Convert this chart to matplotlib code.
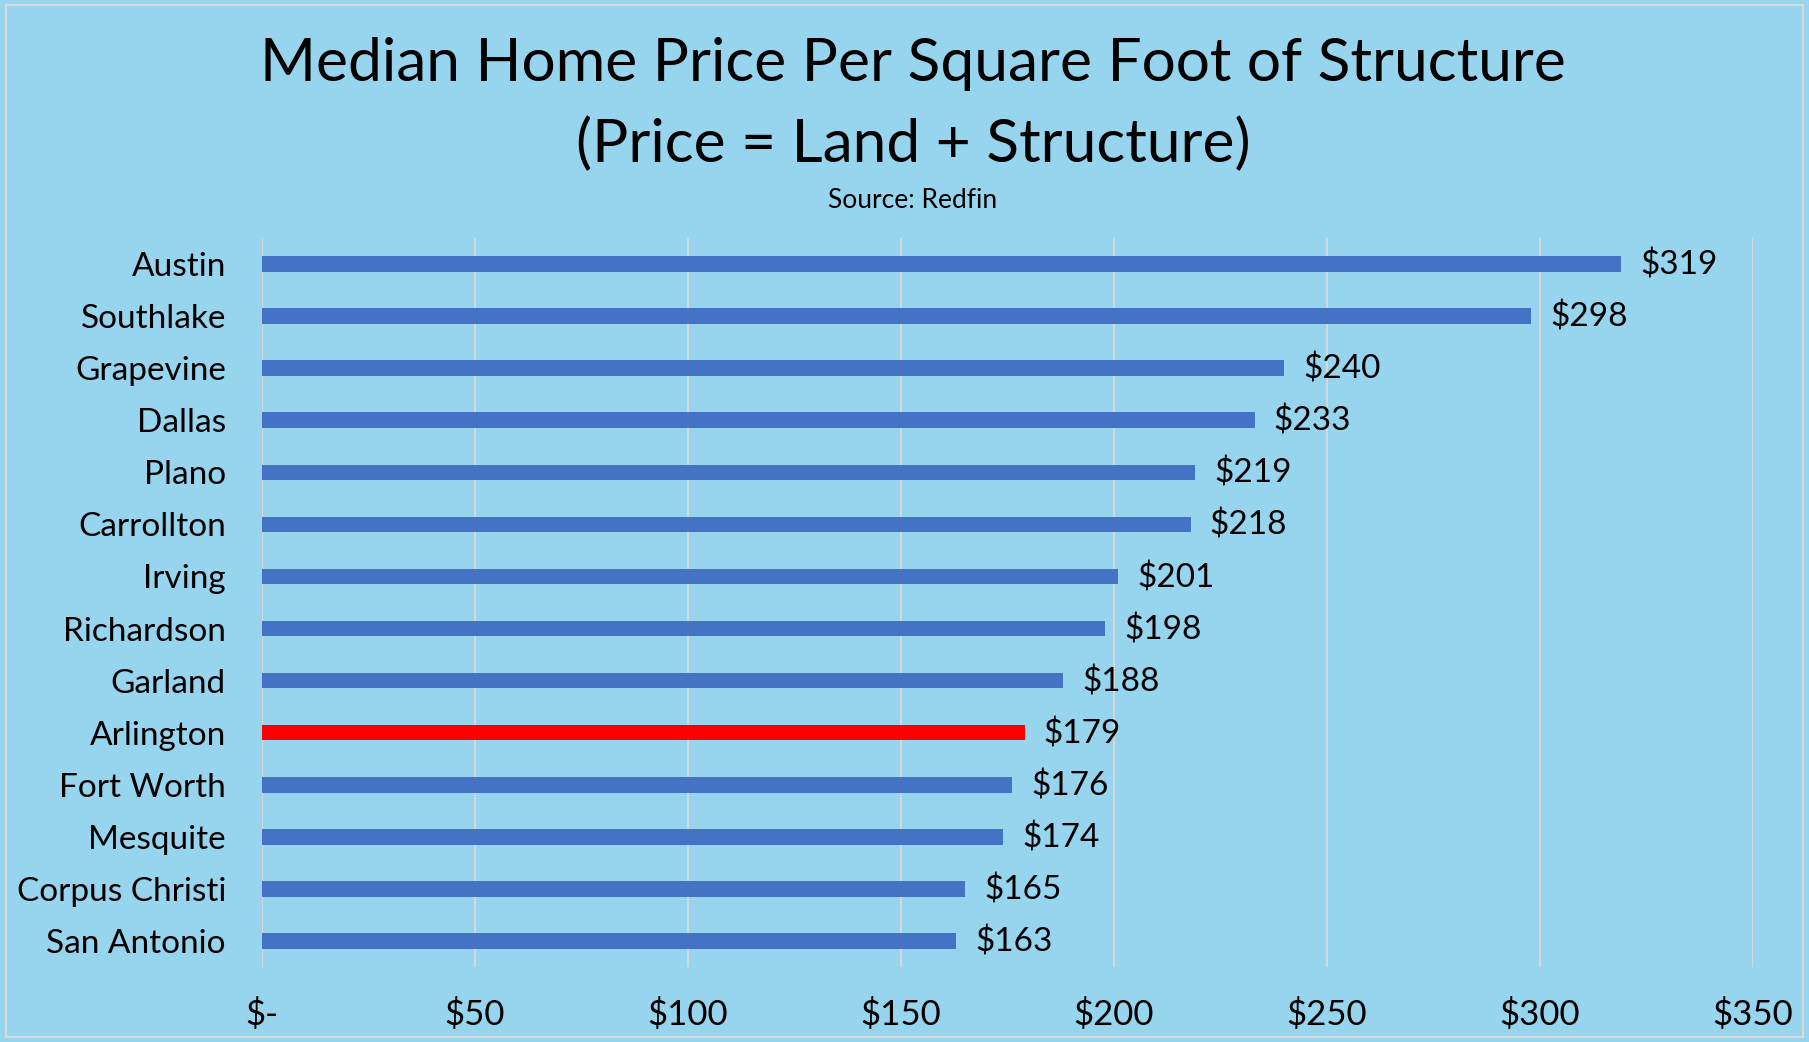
import matplotlib
matplotlib.use("Agg")
import matplotlib.pyplot as plt
from matplotlib.patches import Rectangle
from matplotlib.ticker import FuncFormatter

villes = ["Austin", "Southlake", "Grapevine", "Dallas", "Plano", "Carrollton", "Irving",
          "Richardson", "Garland", "Arlington", "Fort Worth", "Mesquite", "Corpus Christi",
          "San Antonio"]
prix_pied2 = [319, 298, 240, 233, 219, 218, 201, 198, 188, 179, 176, 174, 165, 163]
ville_en_evidence = "Arlington"
graduations = [0, 50, 100, 150, 200, 250, 300, 350]

FOND = "#97D5EE"
BLEU = "#4472C4"
ROUGE = "#FF0000"
GRILLE = "#D9D9D9"

plt.rcParams["font.family"] = ["Lato", "DejaVu Sans"]

fig = plt.figure(figsize=(18.09, 10.42), dpi=100)
fig.patch.set_facecolor(FOND)
fig.patches.append(Rectangle((6 / 1809, 5 / 1042), 1 - 12 / 1809, 1 - 10 / 1042,
                             transform=fig.transFigure, fill=False,
                             edgecolor=GRILLE, linewidth=1.5))

ax = fig.add_axes([262 / 1809, 1 - 967 / 1042, (1753 - 262) / 1809, (967 - 238) / 1042])
ax.set_facecolor(FOND)

positions = list(range(len(villes)))
couleurs = [ROUGE if v == ville_en_evidence else BLEU for v in villes]
ax.barh(positions, prix_pied2, height=0.30, color=couleurs, zorder=3)

for y, val in zip(positions, prix_pied2):
    ax.text(val + 4.5, y + 0.02, f"${val}", va="center", ha="left", fontsize=24, zorder=4)

ax.set_ylim(len(villes) - 0.5, -0.5)
ax.set_xlim(0, 350)
ax.set_yticks(positions)
ax.set_yticklabels(villes, fontsize=24)
ax.set_xticks(graduations)
ax.xaxis.set_major_formatter(FuncFormatter(lambda v, p: "$-" if v == 0 else f"${v:.0f}"))
ax.tick_params(axis="x", labelsize=25, length=0, pad=22)
ax.tick_params(axis="y", length=0, pad=26)
ax.grid(axis="x", color=GRILLE, linewidth=1.3, zorder=0)
for s in ax.spines.values():
    s.set_visible(False)

# titre centre sur la zone de trace (pas sur la figure)
x_titre = 913 / 1809
fig.text(x_titre, 1 - 64 / 1042, "Median Home Price Per Square Foot of Structure",
         ha="center", va="center", fontsize=43.5)
fig.text(x_titre, 1 - 144 / 1042, "(Price = Land + Structure)",
         ha="center", va="center", fontsize=43.5)
fig.text(x_titre, 1 - 200 / 1042, "Source: Redfin", ha="center", va="center", fontsize=19)

fig.savefig("out.png", dpi=100, facecolor=FOND)
